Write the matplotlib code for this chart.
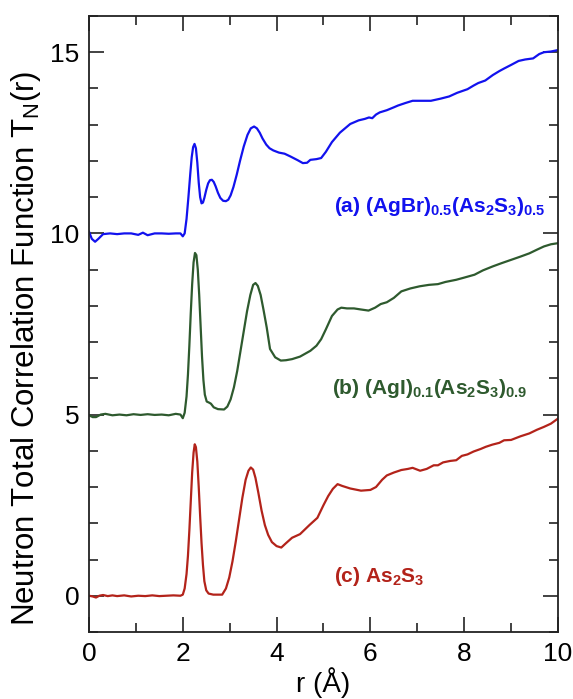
import numpy as np
from matplotlib import pyplot as plt
from matplotlib.ticker import MultipleLocator

plt.rcParams['font.family'] = ['Liberation Sans', 'DejaVu Sans']
plt.rcParams['mathtext.fontset'] = 'custom'
plt.rcParams['mathtext.rm'] = 'Liberation Sans'
plt.rcParams['mathtext.bf'] = 'Liberation Sans:bold'
plt.rcParams['mathtext.it'] = 'Liberation Sans:italic'

# (a) (AgBr)0.5(As2S3)0.5, offset by 10
r_a = [0, 0.06, 0.13, 0.2, 0.3, 0.45, 0.6, 0.75, 0.9, 1.05, 1.15, 1.25, 1.4, 1.55, 1.7,
       1.85, 1.95, 2.0, 2.04, 2.08, 2.12, 2.16, 2.19, 2.22, 2.25, 2.28, 2.31, 2.34, 2.37,
       2.4, 2.43, 2.46, 2.5, 2.54, 2.58, 2.62, 2.66, 2.7, 2.75, 2.8, 2.86, 2.92, 2.97,
       3.02, 3.08, 3.15, 3.22, 3.3, 3.38, 3.45, 3.52, 3.58, 3.64, 3.7, 3.78, 3.85, 3.93,
       4.05, 4.17, 4.3, 4.45, 4.56, 4.65, 4.72, 4.85, 4.95, 5.05, 5.18, 5.35, 5.57,
       5.75, 5.88, 5.97, 6.04, 6.12, 6.2, 6.35, 6.5, 6.59, 6.75, 6.9, 7.1, 7.29, 7.5, 7.68,
       7.85, 8.07, 8.2, 8.3, 8.45, 8.61, 8.75, 8.85, 9.0, 9.16, 9.3, 9.47, 9.6, 9.7, 9.85, 10]
t_a = [10.05, 9.85, 9.77, 9.85, 9.98, 10.0, 9.98, 10.0, 10.0, 9.96, 10.02, 9.95, 10.0, 10.0,
       9.99, 10.0, 10.0, 9.92, 10.0, 10.4, 11.0, 11.65, 12.1, 12.38, 12.47, 12.35, 11.95,
       11.4, 11.0, 10.83, 10.85, 10.98, 11.2, 11.38, 11.47, 11.48, 11.42, 11.3, 11.12,
       10.98, 10.9, 10.89, 10.93, 11.05, 11.28, 11.62, 12.0, 12.4, 12.72, 12.9, 12.95,
       12.9, 12.78, 12.62, 12.45, 12.35, 12.29, 12.23, 12.2, 12.12, 12.02, 11.94, 11.95,
       12.03, 12.05, 12.08, 12.25, 12.52, 12.78, 13.02, 13.12, 13.16, 13.2, 13.18, 13.28,
       13.34, 13.4, 13.48, 13.53, 13.6, 13.66, 13.66, 13.66, 13.72, 13.78, 13.88, 13.98,
       14.08, 14.15, 14.22, 14.37, 14.48, 14.55, 14.65, 14.76, 14.8, 14.83, 14.95, 15.0,
       15.02, 15.06]

# (b) (AgI)0.1(As2S3)0.9, offset by 5
r_b = [0, 0.08, 0.15, 0.25, 0.35, 0.5, 0.65, 0.8, 0.95, 1.1, 1.25, 1.4, 1.55, 1.7, 1.85,
       1.95, 2.0, 2.04, 2.08, 2.11, 2.14, 2.17, 2.2, 2.23, 2.26, 2.29, 2.32, 2.35, 2.38,
       2.41, 2.44, 2.47, 2.51, 2.56, 2.6, 2.66, 2.75, 2.88, 2.95, 3.02, 3.09, 3.16, 3.23,
       3.3, 3.37, 3.44, 3.5, 3.55, 3.6, 3.66, 3.72, 3.79, 3.86, 3.97, 4.09, 4.2, 4.33,
       4.5, 4.72, 4.85, 4.95, 5.05, 5.18, 5.3, 5.38, 5.5, 5.65, 5.8, 5.96, 6.1, 6.22,
       6.35, 6.5, 6.66, 6.85, 7.05, 7.25, 7.44, 7.6, 7.83, 8.0, 8.22, 8.4, 8.61, 8.8,
       9.0, 9.2, 9.39, 9.55, 9.7, 9.85, 10]
t_b = [4.98, 4.93, 4.93, 5.0, 5.02, 4.98, 5.0, 4.98, 5.01, 4.99, 5.01, 4.99, 5.0, 4.98, 5.02,
       5.0, 4.9, 5.05, 5.5, 6.1, 6.9, 7.8, 8.6, 9.2, 9.46, 9.4, 9.0, 8.3, 7.45, 6.6, 5.95,
       5.55, 5.36, 5.33, 5.3, 5.2, 5.15, 5.14, 5.22, 5.42, 5.75, 6.2, 6.75, 7.3, 7.85, 8.3,
       8.58, 8.63, 8.55, 8.3, 7.9, 7.4, 6.81, 6.58, 6.49, 6.5, 6.53, 6.6, 6.76, 6.9,
       7.08, 7.35, 7.72, 7.9, 7.95, 7.93, 7.93, 7.9, 7.87, 7.95, 8.05, 8.1, 8.22, 8.4,
       8.48, 8.54, 8.58, 8.6, 8.66, 8.72, 8.78, 8.86, 8.98, 9.09, 9.18, 9.27, 9.36, 9.45,
       9.55, 9.64, 9.7, 9.73]

# (c) As2S3, no offset
r_c = [0, 0.08, 0.15, 0.22, 0.3, 0.4, 0.5, 0.6, 0.75, 0.9, 1.05, 1.2, 1.35, 1.5, 1.65, 1.8,
       1.95, 2.0, 2.04, 2.08, 2.11, 2.14, 2.17, 2.2, 2.23, 2.255, 2.28, 2.31, 2.34, 2.37,
       2.4, 2.43, 2.46, 2.5, 2.55, 2.65, 2.75, 2.84, 2.92, 2.99, 3.06, 3.13, 3.2, 3.27,
       3.34, 3.4, 3.45, 3.5, 3.55, 3.61, 3.68, 3.75, 3.82, 3.9, 4.0, 4.1, 4.2, 4.33,
       4.5, 4.7, 4.87, 5.0, 5.1, 5.2, 5.3, 5.4, 5.57, 5.8, 6.0, 6.12, 6.25, 6.35,
       6.5, 6.66, 6.8, 6.9, 7.06, 7.2, 7.35, 7.44, 7.55, 7.7, 7.83, 7.95, 8.07, 8.2, 8.35,
       8.46, 8.6, 8.75, 8.85, 9.0, 9.2, 9.39, 9.55, 9.7, 9.85, 10]
t_c = [0.0, -0.02, -0.05, 0.0, 0.02, -0.01, 0.01, -0.01, 0.01, -0.02, 0.0, -0.01, 0.01,
       -0.01, 0.0, 0.01, 0.0, 0.03, 0.2, 0.6, 1.1, 1.8, 2.6, 3.4, 3.95, 4.18, 4.1, 3.7,
       3.0, 2.2, 1.45, 0.85, 0.4, 0.15, 0.06, 0.03, 0.03, 0.03, 0.2, 0.5, 0.95, 1.5, 2.1,
       2.7, 3.2, 3.45, 3.54, 3.48, 3.25, 2.85, 2.35, 1.95, 1.68, 1.48, 1.37, 1.33, 1.45,
       1.6, 1.7, 1.95, 2.15, 2.5, 2.75, 2.95, 3.08, 3.03, 2.96, 2.9, 2.92, 3.0, 3.2,
       3.32, 3.4, 3.47, 3.5, 3.53, 3.45, 3.5, 3.6, 3.6, 3.68, 3.72, 3.74, 3.86, 3.9, 3.98,
       4.05, 4.11, 4.17, 4.22, 4.29, 4.3, 4.4, 4.48, 4.58, 4.66, 4.75, 4.89]

blue = '#1212ee'
green = '#2e5a2e'
red = '#b3231a'

fig = plt.figure(figsize=(5.73, 6.99), dpi=100)
ax = fig.add_axes([0.1553, 0.0959, 0.8185, 0.8812])

ax.plot(r_a, t_a, color=blue, lw=1.6)
ax.plot(r_b, t_b, color=green, lw=1.6)
ax.plot(r_c, t_c, color=red, lw=1.6)

ax.text(5.22, 10.6, r'$\mathbf{(a)\ (AgBr)_{0.5}(As_2S_3)_{0.5}}$', color=blue, fontsize=15)
ax.text(5.18, 5.575, r'$\mathbf{(b)\ (AgI)_{0.1}(As_2S_3)_{0.9}}$', color=green, fontsize=15)
ax.text(5.22, 0.38, r'$\mathbf{(c)\ As_2S_3}$', color=red, fontsize=15)

ax.set_xlim(0, 10)
ax.set_ylim(-1, 16)
ax.xaxis.set_major_locator(MultipleLocator(2))
ax.xaxis.set_minor_locator(MultipleLocator(1))
ax.yaxis.set_major_locator(MultipleLocator(5))
ax.yaxis.set_minor_locator(MultipleLocator(1))
ax.tick_params(which='both', direction='in', top=True, right=True, color='#222222', width=1.2)
ax.tick_params(which='major', length=11, labelsize=19, pad=7)
ax.tick_params(which='minor', length=6.5)
for s in ax.spines.values():
    s.set_linewidth(1.3)
    s.set_color('#222222')

ax.set_xlabel('r (Å)', fontsize=20, labelpad=1)
ax.set_ylabel(r'Neutron Total Correlation Function T$_\mathregular{N}$(r)', fontsize=22.5, labelpad=5)
ax.yaxis.label.set_y(0.46)

fig.savefig('out.png', dpi=100)
